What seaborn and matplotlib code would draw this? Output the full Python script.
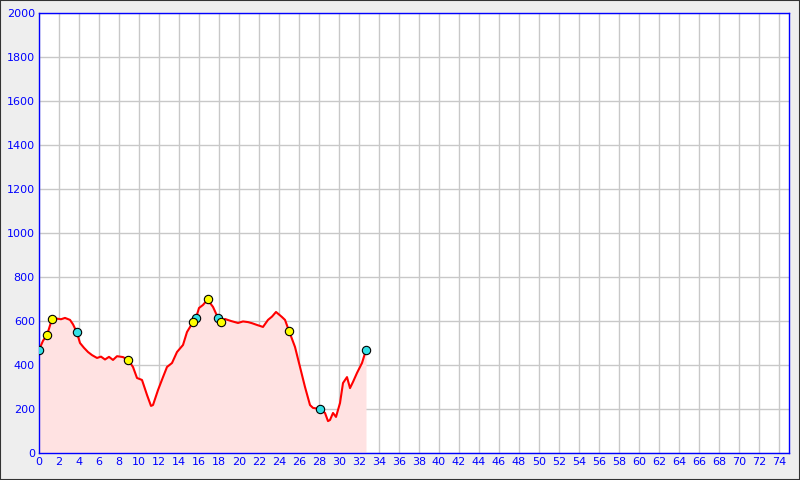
import numpy as np
import pandas as pd
import matplotlib
matplotlib.use("Agg")
import matplotlib.pyplot as plt
import seaborn as sns
from matplotlib.patches import Rectangle

# Profil wysokosci (km, m n.p.m.)
dist = [0.0, 0.4, 0.8, 1.3, 1.6, 2.2, 2.6, 3.1, 3.4, 3.77, 4.1, 4.5, 4.9, 5.3, 5.8, 6.2,
        6.6, 7.0, 7.4, 7.8, 8.4, 8.9, 9.4, 9.8, 10.3, 10.8, 11.2, 11.4, 11.9, 12.4,
        12.8, 13.3, 13.8, 14.4, 14.8, 15.4, 15.7, 16.0, 16.4, 16.9, 17.1, 17.4,
        17.9, 18.2, 18.6, 19.2, 19.9, 20.4, 20.9, 21.3, 21.8, 22.4, 22.9, 23.3,
        23.7, 24.3, 24.6, 25.0, 25.6, 26.1, 26.6, 27.1, 27.4, 28.1, 28.6, 28.9,
        29.1, 29.4, 29.7, 30.1, 30.4, 30.8, 31.1, 31.4, 31.8, 32.3, 32.7]
elev = [468, 510, 536, 609, 612, 608, 614, 605, 585, 550, 500, 478, 459, 445, 432, 438,
        425, 437, 423, 440, 436, 423, 391, 341, 332, 264, 214, 218, 286, 345,
        391, 409, 459, 491, 550, 595, 614, 659, 673, 700, 682, 664,
        614, 595, 609, 600, 591, 598, 595, 590, 582, 573, 605, 620,
        641, 618, 605, 555, 482, 391, 300, 218, 205, 200, 182, 145,
        150, 182, 164, 227, 318, 345, 295, 323, 364, 409, 468]

cyan_x = [0.0, 3.77, 15.7, 17.9, 28.1, 32.7]
cyan_y = [468, 550, 614, 614, 200, 468]
yellow_x = [0.8, 1.3, 8.9, 15.4, 16.9, 18.2, 25.0]
yellow_y = [536, 609, 423, 595, 700, 595, 555]

df = pd.DataFrame({"dist": dist, "elev": elev})
blue = "#0000ff"

sns.set_style("white")
fig = plt.figure(figsize=(8, 4.8), dpi=100, facecolor="#eeeeee")
ax = fig.add_axes([0.04875, 0.05625, 0.9375, 0.9167])
ax.set_facecolor("white")

ax.fill_between(df["dist"], df["elev"], color="#ffe2e2", lw=0, zorder=1)
sns.lineplot(data=df, x="dist", y="elev", color="red", lw=1.5, ax=ax, zorder=3)
sns.scatterplot(x=cyan_x, y=cyan_y, color="#33e0e6", edgecolor="black", s=36,
                linewidth=0.8, ax=ax, zorder=4)
sns.scatterplot(x=yellow_x, y=yellow_y, color="#ffff00", edgecolor="black", s=36,
                linewidth=0.8, ax=ax, zorder=4)

ax.set_xlim(0, 75)
ax.set_ylim(0, 2000)
ax.set_xticks(np.arange(0, 75, 2))
ax.set_yticks(np.arange(0, 2001, 200))
ax.grid(True, color="#c8c8c8", lw=1, zorder=0)
ax.set_axisbelow(True)
ax.tick_params(axis="both", direction="in", color=blue, labelcolor=blue,
               labelsize=8, length=4, width=1, pad=3)
for s in ax.spines.values():
    s.set_color(blue)
    s.set_linewidth(1)
ax.set_xlabel("")
ax.set_ylabel("")

fig.patches.append(Rectangle((0, 0), 1, 1, transform=fig.transFigure, fill=False,
                             edgecolor="#333333", lw=1.5, zorder=10))

fig.savefig("out.png", dpi=100, facecolor=fig.get_facecolor())
